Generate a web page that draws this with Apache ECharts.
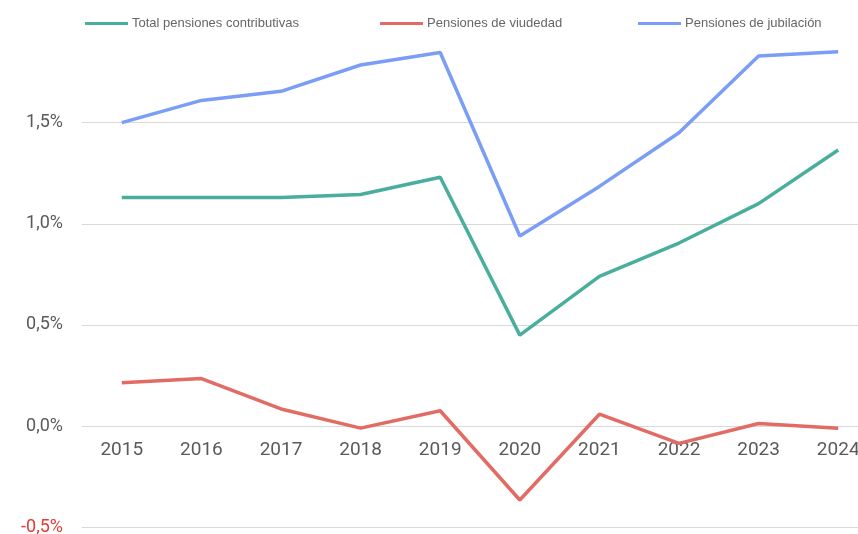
<!DOCTYPE html>
<html>
<head>
<meta charset="utf-8">
<script src="https://cdn.jsdelivr.net/npm/echarts@6/dist/echarts.min.js"></script>
<style>html,body{margin:0;padding:0;background:#fff}#c{width:858px;height:534px}</style>
</head>
<body>
<div id="c"></div>
<script>
const years = ['2015','2016','2017','2018','2019','2020','2021','2022','2023','2024'];
const totalContributivas = [1.13, 1.13, 1.13, 1.145, 1.23, 0.45, 0.74, 0.905, 1.10, 1.365];
const viudedad = [0.215, 0.235, 0.085, -0.01, 0.076, -0.365, 0.059, -0.085, 0.013, -0.011];
const jubilacion = [1.50, 1.61, 1.655, 1.785, 1.847, 0.94, 1.185, 1.45, 1.83, 1.85];
const seriesNames = ['Total pensiones contributivas', 'Pensiones de viudedad', 'Pensiones de jubilación'];
const yTicks = [-0.5, 0, 0.5, 1.0, 1.5, 2.0];

const colors = ['#4aae9f', '#e26c64', '#7b9df6'];
const chart = echarts.init(document.getElementById('c'));
const fmt = v => (v < 0 ? '-' : '') + Math.abs(v).toFixed(1).replace('.', ',') + '%';
const legendLefts = [80, 375, 633];
chart.setOption({
  animation: false,
  grid: { left: 82, right: -20, top: 21.5, bottom: 6.7, outerBoundsMode: 'none', containLabel: false },
  legend: seriesNames.map((n, i) => ({
    data: [n], left: legendLefts[i], top: 12, icon: 'rect', itemWidth: 43, itemHeight: 3, itemGap: 4,
    textStyle: { fontSize: 13, color: '#666', fontFamily: 'Liberation Sans, Arial', padding: [0, 0, 0, -1] }
  })),
  xAxis: {
    type: 'category', data: years, boundaryGap: true, position: 'bottom', offset: -101.2, z: 1,
    axisLine: { show: false, onZero: false }, axisTick: { show: false },
    axisLabel: { fontSize: 19, color: '#5a5a5a', margin: 15, fontFamily: 'Roboto, Liberation Sans' }
  },
  yAxis: {
    type: 'value', min: yTicks[0], max: yTicks[yTicks.length - 1], interval: 0.5,
    axisLine: { show: false }, axisTick: { show: false },
    splitLine: { lineStyle: { color: yTicks.map(t => t >= 2 ? 'rgba(0,0,0,0)' : '#d9d9d9'), width: 1.2 } },
    axisLabel: {
      fontSize: 18, margin: 19, color: '#5a5a5a', fontFamily: 'Roboto, Liberation Sans',
      formatter: v => v >= 2 ? '' : (v < 0 ? '{neg|' + fmt(v) + '}' : fmt(v)),
      rich: { neg: { color: '#e33b34', fontSize: 18, fontFamily: 'Roboto, Liberation Sans' } }
    }
  },
  series: [totalContributivas, viudedad, jubilacion].map((d, i) => ({
    name: seriesNames[i], type: 'line', data: d, showSymbol: false, symbol: 'none', z: 3,
    itemStyle: { color: colors[i] },
    lineStyle: { color: colors[i], width: 3.5 }
  }))
});
</script>
</body>
</html>
